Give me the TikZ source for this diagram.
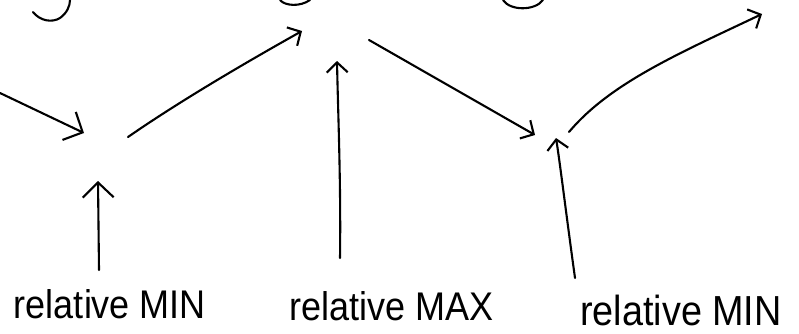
\documentclass[tikz,border=0pt]{standalone}
\usepackage{fontspec}
\setmainfont{Liberation Sans}
\usetikzlibrary{arrows.meta}
\tikzset{
  pen/.style={line width=2.1pt, line cap=round, line join=round},
  bigtip/.style={-{Straight Barb[length=15pt,width=31pt,line width=2.1pt]}},
  smalltip/.style={-{Straight Barb[length=10pt,width=21pt,line width=2.1pt]}},
  lbl/.style={font=\fontsize{40}{44}\selectfont, inner sep=0pt, anchor=base}
}
\newcommand{\narrow}[1]{\scalebox{0.9}[1]{#1}}
\begin{document}
\begin{tikzpicture}[x=1pt,y=1pt]
  \useasboundingbox (0,0) rectangle (799,333);
  \clip (0,0) rectangle (799,333);

  % labels
  \node[lbl] (min1) at (110,15) {\narrow{relative MIN}};
  \node[lbl] (max)  at (392,13) {\narrow{relative MAX}};
  \node[lbl, font=\fontsize{42}{46}\selectfont] (min2) at (681,8) {\narrow{relative MIN}};

  % points on the curve
  \coordinate (in)   at (0,240);
  \coordinate (v1)   at (84,200);
  \coordinate (v1r)  at (128,196);
  \coordinate (pk)   at (302,302);
  \coordinate (pkr)  at (369,293);
  \coordinate (v2)   at (535,198);
  \coordinate (v2r)  at (569,201);
  \coordinate (out)  at (762,319);

  % pointer ends
  \coordinate (min1top) at (98,152);
  \coordinate (min1bot) at (99,63);
  \coordinate (maxtop)  at (337,272);
  \coordinate (maxbot)  at (340,75);
  \coordinate (min2top) at (556,195);
  \coordinate (min2bot) at (575,55);

  % curve segments
  \draw[pen, bigtip] (in) -- (v1);
  \draw[pen, smalltip] (v1r) .. controls (180,232) and (245,270) .. (pk);
  \draw[pen, smalltip] (pkr) -- (v2);
  \draw[pen, smalltip] (v2r) .. controls (610,250) and (680,280) .. (out);

  % pointers to extrema
  \draw[pen, bigtip] (min1bot) -- (min1top);
  \draw[pen, smalltip] (maxbot) .. controls (341,150) and (338,220) .. (maxtop);
  \draw[pen, smalltip] (min2bot) .. controls (566,120) and (560,170) .. (min2top);

  % lower ends of handwriting above the picture
  \draw[pen] (33,321) .. controls (40,312) and (52,310) .. (60,315)
             .. controls (67,320) and (70,327) .. (70,333);
  \draw[pen] (280,333) .. controls (285,327) and (300,326) .. (310,333);
  \draw[pen] (503,333) .. controls (510,322) and (535,322) .. (543,333);
\end{tikzpicture}
\end{document}
